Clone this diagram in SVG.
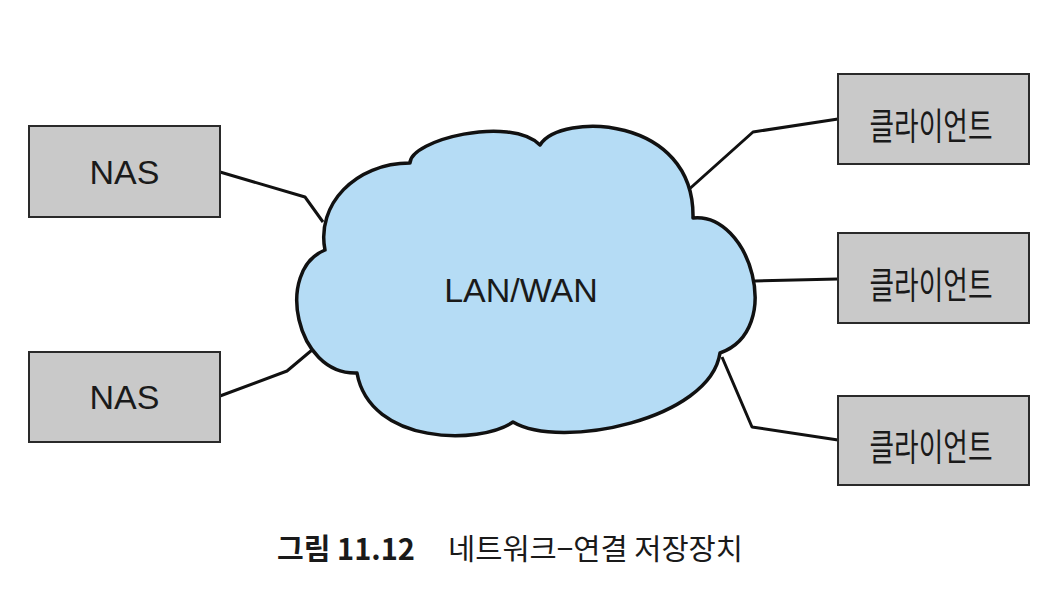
<svg xmlns="http://www.w3.org/2000/svg" width="1062" height="608" viewBox="0 0 1062 608">
<style>
.box{fill:#c9c9c9;stroke:#2a2a2a;stroke-width:2}
.lbl{font-family:"Liberation Sans",Arial,sans-serif;font-size:34px;fill:#1a1a1a;text-anchor:middle}
.kr{font-family:"Noto Sans CJK KR","Noto Sans",sans-serif;font-size:37px;fill:#1a1a1a;text-anchor:middle;dominant-baseline:central}
.conn{fill:none;stroke:#111;stroke-width:3;stroke-linejoin:round}
.cap{font-family:"Noto Sans CJK KR","Noto Sans",sans-serif;font-size:29px;fill:#1a1a1a}
</style>
<rect width="1062" height="608" fill="#ffffff"/>
<g id="connectors">
<polyline class="conn" points="220,172 305,197 323,222"/>
<polyline class="conn" points="220,396 287,371 312,350"/>
<polyline class="conn" points="838,119 753,132 686,192"/>
<polyline class="conn" points="755,281 838,279"/>
<polyline class="conn" points="722,357 752,427 838,440"/>
</g>
<g id="cloud">
<path d="M325,250 C316,205 355,163 410,163 C410,140 510,115 540,145 C560,112 695,115 693,218 C750,212 785,330 720,353 C710,420 560,450 513,422 C480,445 370,445 357,373 C295,375 275,270 325,250 Z" fill="#b5dcf5" stroke="#111" stroke-width="3.5" stroke-linejoin="round"/>
<text class="lbl" x="521" y="302">LAN/WAN</text>
</g>
<g id="nas1">
<rect class="box" x="29" y="126" width="191" height="91"/>
<text class="lbl" x="124.5" y="184">NAS</text>
</g>
<g id="nas2">
<rect class="box" x="29" y="352" width="191" height="90"/>
<text class="lbl" x="124.5" y="409">NAS</text>
</g>
<g id="client1">
<rect class="box" x="838" y="74" width="191" height="90"/>
<text class="kr" x="931" y="124" textLength="123" lengthAdjust="spacingAndGlyphs">클라이언트</text>
</g>
<g id="client2">
<rect class="box" x="838" y="233" width="191" height="90"/>
<text class="kr" x="931" y="283" textLength="123" lengthAdjust="spacingAndGlyphs">클라이언트</text>
</g>
<g id="client3">
<rect class="box" x="838" y="396" width="191" height="89"/>
<text class="kr" x="931" y="445" textLength="123" lengthAdjust="spacingAndGlyphs">클라이언트</text>
</g>
<g id="caption">
<text class="cap" x="277" y="560" font-weight="bold" textLength="138" lengthAdjust="spacingAndGlyphs">그림 11.12</text>
<text class="cap" x="448" y="560" textLength="295" lengthAdjust="spacingAndGlyphs">네트워크−연결 저장장치</text>
</g>
</svg>
